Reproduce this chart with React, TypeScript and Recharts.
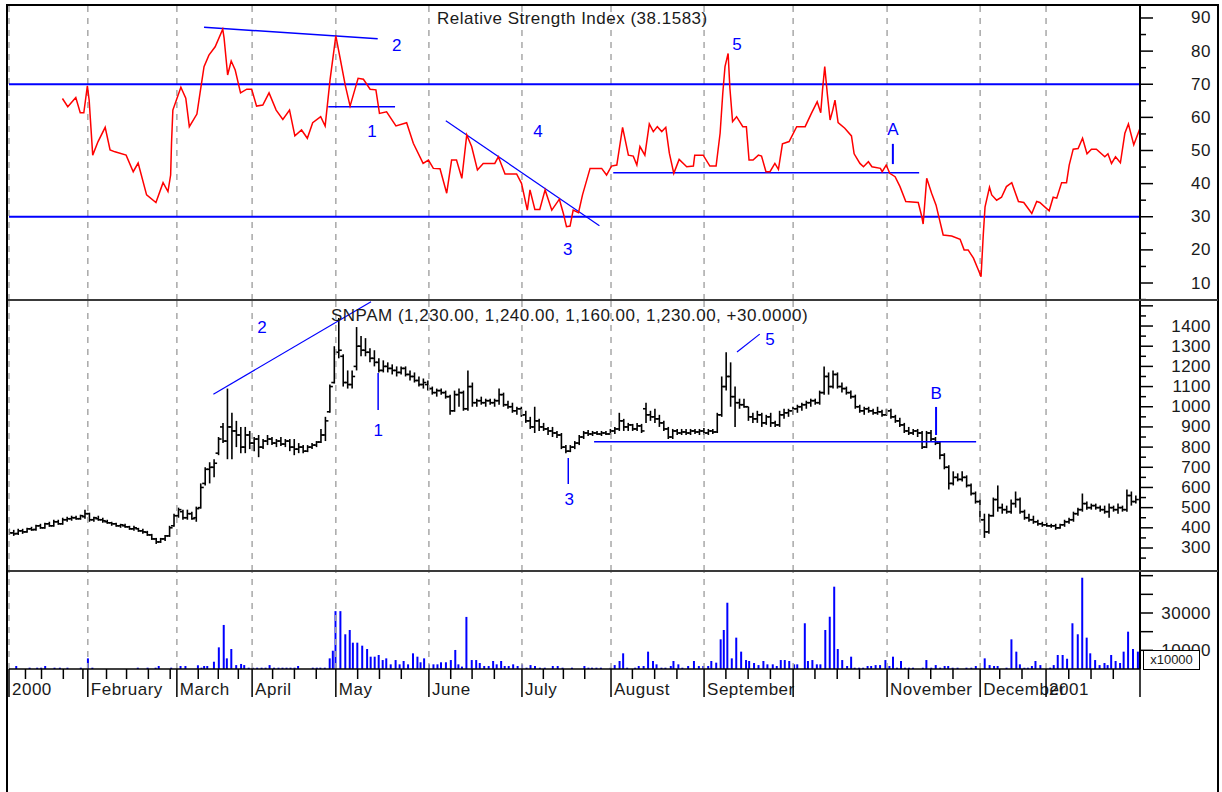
import { Bar, BarChart, ComposedChart, Line, LineChart, ReferenceDot, ReferenceLine, XAxis, YAxis } from 'recharts'

const FONT = "'Liberation Sans', Arial, sans-serif"
const BLUE = '#0000ff'
const GRID = '#a8a8a8'
const INK = '#1a1a1a'

// x axis is the trading-day index, 0 = first bar of Jan 2000
const lastDay = 254
const monthStarts = [0, 17.7, 37.7, 54.6, 73.4, 94.3, 115.2, 135.2, 156.1, 176.1, 197.2, 218.1, 232.9]
const monthLabels = ['2000', 'February', 'March', 'April', 'May', 'June', 'July', 'August', 'September', '', 'November', 'December', '2001']
const weekTicks = [3.7, 7.3, 12.2, 16.6, 21.9, 26.4, 31.3, 36.2, 42.5, 47, 51.5, 59.2, 64.1, 69, 78.3, 83.2, 88.1, 99.2, 104, 109, 120, 124.5, 129.3, 140, 145, 150, 161, 166, 171, 181, 186, 191, 202, 207, 212, 222.5, 227.5, 238, 243, 248]

// RSI line, [day, value]
const rsiPoints: [number, number][] = [
  [12, 65.7], [13.2, 63.2], [15, 66], [16, 61.4], [16.8, 61.4], [17.6, 69.5], [18, 65.2], [18.8, 48.6], [20, 52.7], [21.6, 57],
  [22.7, 50.2], [23.8, 49.6], [26.3, 48.6], [27.9, 43.6], [29, 46.2], [30.9, 36.6], [33, 34.3], [34.6, 40.3], [35.7, 37.6], [36.3, 42.6],
  [36.5, 52.3], [36.8, 62.2], [38.6, 69.1], [39.7, 65.8], [40.5, 57.2], [42.2, 61], [42.9, 67.3], [43.8, 75.3], [44.9, 78.8], [46.3, 81.3],
  [48, 86.6], [48.3, 84], [49.1, 72.8], [49.9, 77], [50.8, 74.3], [52, 67.4], [53.4, 68.5], [54.5, 68.5], [55.6, 63.4], [57, 63.7],
  [58.4, 67.4], [60, 62.2], [61.5, 59.4], [63, 62.2], [64.2, 54.4], [65.7, 56.2], [67, 53.7], [68.2, 58.4], [70, 60.2], [71, 57.4],
  [72.1, 71.3], [73.4, 84.6], [74.3, 78.3], [75.5, 69.8], [76.6, 63.4], [78.4, 71.8], [79.6, 71.5], [81.1, 68.5], [82.4, 68.3], [83.2, 61.2],
  [84.8, 61.7], [86.9, 57.4], [89.3, 58.4], [90.8, 52.2], [93, 46.1], [94.2, 47.1], [95.3, 44.6], [96.8, 44.5], [98.3, 37.1], [99.4, 47.1],
  [100.5, 47.1], [101.7, 41.6], [102.8, 54.7], [103.9, 51.2], [105.2, 44.1], [106.5, 46.1], [109.1, 46.1], [109.9, 48.1], [111.4, 42.9], [114, 42.9],
  [115.1, 40.1], [116.4, 32], [117, 38.1], [118.1, 32.2], [119.2, 32.2], [120.4, 38.1], [121.9, 32], [123.6, 35.3], [124.5, 31], [125.2, 27],
  [126, 27.2], [126.7, 32], [127.9, 31.2], [128.8, 36.6], [130.5, 44.6], [133.1, 44.6], [134.2, 42.6], [135.3, 45.3], [136.5, 45.6], [137.8, 57],
  [139.1, 48.6], [140.2, 48.3], [141, 45.6], [141.7, 51.2], [142.8, 48.6], [143.8, 58], [144.7, 55.7], [145.6, 57.2], [146.6, 55.7], [147.5, 57],
  [148.3, 49.2], [149.3, 43.1], [150.5, 47.3], [152.2, 45.1], [153.7, 45.3], [154, 48.6], [155.9, 48.6], [157.4, 45.3], [158.8, 45.3], [159.7, 55.2],
  [160.3, 67.3], [160.8, 75.3], [161.5, 79.3], [161.9, 68.8], [162.5, 58.7], [163.4, 60.2], [164.8, 57.2], [165.6, 57.2], [166.2, 47.1], [167.1, 47.1],
  [168.3, 48.6], [169, 48.3], [170, 43.6], [170.9, 43.6], [172, 46.1], [172.8, 44.3], [173.7, 52], [175.2, 52.7], [176.9, 57.2], [178.8, 57.2],
  [180.2, 61.2], [181.5, 64.7], [182.3, 61.4], [182.7, 68.3], [183.2, 75.3], [183.8, 66.8], [184.4, 59.2], [185, 62.2], [185.5, 65.2], [186.2, 58.4],
  [187.7, 56.7], [189.2, 54.4], [189.8, 49], [191.1, 46.1], [191.9, 45.1], [193, 46.6], [193.8, 45.1], [195.7, 44.6], [196.1, 43.6], [197, 45.6],
  [197.8, 43.1], [199, 42.1], [200.1, 39.1], [201.4, 34.6], [204.2, 34.3], [205, 30], [205.3, 27.8], [206.1, 41.6], [207.2, 37.1], [208.2, 33.5],
  [209.8, 24.5], [211.7, 24.2], [213.6, 23.2], [214.5, 20], [215.4, 20], [216.6, 17.5], [217.7, 13.9], [218.3, 11.9], [218.8, 24.5], [219.2, 33],
  [220.2, 38.9], [220.7, 36.6], [221.8, 35], [222.9, 35.9], [224, 39.1], [225.2, 40.3], [226.7, 34.6], [227.9, 34.3], [229.7, 31], [230.8, 34.6],
  [231.5, 34.3], [233.6, 31.8], [234.5, 35.9], [235.3, 35.6], [236.4, 40.3], [237.5, 40.3], [238.1, 45.6], [239, 50.4], [240.1, 50.6], [241.1, 53.7],
  [242.1, 49], [243.1, 50.4], [244.2, 50.4], [246.1, 48.1], [246.8, 49], [247.6, 46.1], [248.5, 48.1], [249.6, 46.3], [250.6, 55.2], [251.4, 58],
  [252.6, 51.7], [254, 56.7],
]

// SNPAM daily bars, one per day from day 0: [open, high, low, close]
const priceBars: [number, number, number, number][] = [
  [380, 395, 365, 375], [375, 390, 360, 370], [372, 395, 365, 385], [385, 395, 370, 380], [380, 400, 375, 395],
  [395, 405, 385, 390], [392, 415, 385, 410], [410, 420, 395, 400], [400, 425, 395, 420], [420, 430, 405, 410],
  [410, 440, 405, 430], [430, 440, 415, 420], [420, 450, 415, 440], [440, 455, 430, 445], [445, 460, 435, 450],
  [450, 460, 440, 445], [445, 465, 440, 460], [455, 490, 445, 470], [470, 475, 430, 440], [440, 455, 430, 450],
  [445, 460, 435, 440], [440, 450, 425, 435], [430, 440, 420, 425], [425, 430, 410, 420], [420, 425, 405, 410],
  [410, 420, 400, 415], [410, 420, 400, 405], [405, 410, 390, 395], [395, 410, 385, 400], [395, 400, 380, 385],
  [385, 395, 370, 380], [378, 385, 360, 365], [365, 370, 340, 345], [345, 350, 320, 330], [330, 350, 325, 345],
  [345, 365, 335, 360], [360, 410, 355, 400], [410, 470, 405, 460], [460, 500, 450, 490], [480, 490, 440, 450],
  [450, 490, 440, 470], [470, 480, 440, 445], [450, 505, 430, 495], [500, 620, 495, 600], [620, 700, 610, 690],
  [690, 725, 620, 700], [700, 740, 650, 720], [770, 850, 760, 840], [900, 920, 820, 830], [830, 1090, 740, 900],
  [900, 970, 740, 880], [880, 930, 800, 860], [860, 900, 770, 800], [800, 900, 770, 860], [860, 880, 790, 820],
  [820, 850, 780, 840], [840, 860, 750, 800], [800, 840, 790, 830], [830, 860, 810, 840], [840, 850, 810, 820],
  [820, 840, 800, 830], [830, 850, 805, 815], [815, 840, 800, 830], [830, 840, 780, 800], [800, 840, 760, 790],
  [790, 820, 770, 800], [800, 810, 770, 780], [780, 810, 775, 800], [800, 820, 790, 810], [810, 830, 800, 825],
  [825, 890, 820, 860], [860, 950, 830, 930], [975, 1110, 970, 1100], [1120, 1300, 1115, 1270], [1270, 1440, 1240, 1280],
  [1250, 1260, 1100, 1120], [1120, 1180, 1090, 1110], [1110, 1180, 1090, 1150], [1200, 1395, 1180, 1300], [1300, 1350, 1250, 1280],
  [1280, 1340, 1250, 1270], [1270, 1290, 1220, 1240], [1240, 1280, 1200, 1220], [1220, 1240, 1170, 1180], [1180, 1230, 1170, 1200],
  [1200, 1220, 1170, 1190], [1190, 1210, 1160, 1180], [1180, 1200, 1150, 1170], [1170, 1200, 1160, 1190], [1190, 1200, 1150, 1160],
  [1160, 1180, 1130, 1150], [1150, 1170, 1120, 1130], [1130, 1150, 1100, 1110], [1110, 1140, 1090, 1120], [1110, 1130, 1080, 1090],
  [1090, 1100, 1060, 1070], [1070, 1090, 1050, 1080], [1080, 1090, 1060, 1070], [1070, 1080, 1040, 1050], [1050, 1060, 960, 980],
  [980, 1080, 975, 1060], [1060, 1090, 1000, 1070], [1070, 1080, 980, 990], [990, 1180, 980, 1100], [1100, 1120, 1000, 1020],
  [1020, 1040, 1000, 1030], [1030, 1050, 1010, 1020], [1020, 1040, 1000, 1030], [1030, 1040, 1010, 1020], [1020, 1040, 1000, 1030],
  [1030, 1090, 1010, 1060], [1060, 1070, 1000, 1010], [1010, 1030, 990, 1000], [1000, 1020, 970, 980], [980, 1000, 960, 990],
  [990, 1000, 950, 960], [960, 980, 920, 930], [930, 950, 890, 900], [900, 1000, 870, 930], [930, 940, 880, 900],
  [900, 920, 880, 890], [890, 900, 860, 880], [880, 900, 850, 870], [870, 880, 845, 860], [860, 870, 790, 800],
  [800, 810, 770, 780], [780, 810, 775, 800], [800, 830, 790, 820], [820, 860, 810, 850], [850, 880, 840, 870],
  [870, 885, 855, 865], [865, 880, 855, 870], [870, 880, 860, 865], [865, 880, 855, 870], [870, 880, 860, 865],
  [865, 890, 860, 880], [880, 900, 865, 890], [890, 970, 880, 930], [930, 940, 880, 900], [900, 920, 880, 910],
  [910, 915, 880, 890], [890, 920, 880, 905], [905, 915, 870, 880], [990, 1020, 920, 960], [960, 980, 930, 950],
  [950, 990, 920, 940], [940, 960, 900, 920], [920, 930, 880, 890], [890, 900, 840, 850], [850, 890, 840, 880],
  [880, 890, 860, 870], [870, 890, 860, 875], [875, 890, 860, 870], [870, 890, 860, 880], [880, 890, 865, 875],
  [875, 890, 860, 880], [880, 895, 860, 870], [870, 890, 860, 880], [880, 890, 865, 875], [875, 970, 870, 960],
  [960, 1150, 950, 1100], [1100, 1270, 1080, 1150], [1150, 1220, 1000, 1050], [1050, 1100, 900, 1020], [1020, 1040, 990, 1010],
  [1010, 1040, 995, 1000], [1000, 1000, 930, 950], [950, 970, 920, 940], [940, 980, 920, 960], [960, 970, 900, 920],
  [920, 960, 910, 950], [950, 970, 900, 920], [920, 930, 900, 910], [910, 980, 900, 960], [960, 990, 940, 970],
  [970, 990, 950, 980], [980, 1000, 960, 990], [990, 1010, 970, 1000], [1000, 1020, 980, 1010], [1010, 1030, 990, 1020],
  [1020, 1040, 1000, 1030], [1030, 1040, 1010, 1020], [1020, 1080, 1010, 1070], [1070, 1200, 1060, 1150], [1150, 1170, 1060, 1100],
  [1100, 1180, 1090, 1160], [1160, 1170, 1090, 1100], [1100, 1120, 1070, 1090], [1090, 1100, 1060, 1070], [1070, 1080, 1040, 1050],
  [1050, 1060, 990, 1000], [1000, 1010, 970, 980], [980, 1000, 960, 990], [990, 1000, 970, 980], [980, 990, 960, 970],
  [970, 1000, 960, 975], [975, 985, 950, 960], [960, 990, 955, 980], [980, 990, 940, 950], [950, 960, 920, 930],
  [930, 945, 900, 910], [910, 920, 870, 880], [880, 900, 860, 870], [870, 890, 860, 880], [880, 890, 850, 870],
  [870, 880, 790, 800], [800, 880, 795, 870], [870, 885, 830, 840], [840, 850, 810, 820], [820, 830, 740, 760],
  [760, 770, 690, 700], [700, 710, 590, 620], [620, 680, 610, 650], [650, 670, 630, 640], [640, 680, 630, 650],
  [650, 660, 600, 610], [610, 620, 560, 570], [570, 580, 520, 530], [530, 540, 430, 440], [440, 470, 350, 380],
  [380, 470, 370, 460], [460, 550, 455, 540], [540, 610, 480, 500], [500, 520, 470, 490], [490, 510, 470, 480],
  [480, 540, 470, 520], [520, 580, 500, 540], [540, 550, 470, 480], [480, 490, 440, 450], [450, 470, 430, 440],
  [440, 460, 420, 430], [430, 440, 410, 420], [420, 430, 405, 415], [415, 425, 405, 410], [410, 420, 400, 410],
  [410, 420, 390, 400], [400, 420, 395, 415], [415, 440, 405, 430], [430, 450, 420, 440], [440, 480, 430, 470],
  [470, 500, 460, 490], [490, 570, 480, 520], [520, 530, 490, 500], [500, 520, 490, 510], [510, 520, 490, 500],
  [500, 510, 480, 490], [490, 510, 470, 480], [480, 520, 450, 500], [500, 510, 480, 490], [490, 520, 470, 500],
  [500, 510, 480, 490], [490, 590, 480, 560], [560, 580, 510, 530], [530, 560, 520, 540],
]

// volume, [day, shares], axis shown in units of x10000
const volumePoints: [number, number][] = [
  [1.7, 1600], [4.7, 700], [6.4, 700], [7.3, 700], [8.2, 1600], [10.3, 700], [11.5, 700], [13.2, 700], [16.2, 700], [17.8, 5700],
  [18.8, 700], [29, 700], [31.2, 700], [33, 700], [33.7, 1600], [36.5, 700], [38.6, 1600], [39.7, 1600], [42.5, 2000], [43.3, 700],
  [43.9, 1600], [44.6, 1600], [46.1, 3900], [47.2, 11600], [48.3, 23600], [49, 5700], [50, 10700], [51.1, 2100], [52.2, 2700], [52.9, 2100],
  [53.9, 700], [54.8, 700], [55.8, 700], [56.8, 700], [57.7, 700], [58.6, 2100], [59.6, 700], [60.6, 700], [61.5, 700], [62.4, 700],
  [63.3, 700], [64.2, 700], [65, 1600], [68.3, 700], [69.2, 700], [70, 700], [71, 700], [72.1, 5700], [72.8, 9800], [73.4, 31000],
  [74.5, 31000], [75.6, 18600], [76.6, 20900], [77.3, 14100], [78.3, 14100], [79.4, 12500], [80.5, 10700], [81.3, 6600], [82.2, 6600], [83.1, 7500],
  [84, 4800], [84.8, 5700], [85.8, 2500], [86.9, 4800], [87.8, 2500], [88.7, 4300], [89.7, 2500], [90.8, 8400], [91.8, 6600], [92.5, 3600],
  [93.3, 5700], [94.4, 2500], [95.4, 2500], [96.3, 2500], [97.1, 3600], [98.2, 3600], [99.3, 4800], [100.3, 10200], [101, 2500], [101.8, 1300],
  [102.8, 27900], [104, 4800], [105, 4800], [105.8, 3200], [106.8, 1600], [107.8, 1600], [108.8, 4300], [109.6, 2500], [110.6, 4300], [111.4, 1600],
  [112.3, 1600], [113.3, 2500], [114.3, 1600], [115.3, 2500], [116.3, 700], [117.2, 2100], [118.2, 1600], [119.3, 700], [120.4, 700], [122.2, 1600],
  [123.3, 1600], [124.4, 700], [126.5, 700], [129.3, 1600], [130.2, 700], [131, 700], [132, 700], [133, 700], [135.2, 700], [136.1, 2100],
  [137.2, 4300], [138, 8400], [138.9, 700], [140.7, 700], [141.5, 1600], [142.6, 1600], [143.6, 9300], [144.7, 4300], [145.5, 2500], [146.6, 700],
  [147.5, 700], [148.7, 1600], [149.3, 4300], [150.4, 2500], [151.3, 700], [152.6, 1600], [153.9, 4300], [155, 1600], [156, 1600], [157.1, 1600],
  [157.8, 4300], [158.9, 3400], [159.9, 15900], [160.6, 20900], [161.4, 35500], [162.4, 5700], [163.4, 16800], [164.5, 9300], [165.6, 4800], [166.3, 4300],
  [167.4, 3200], [168.4, 2100], [169.5, 4300], [170.4, 2500], [171.6, 2500], [172.5, 1600], [173.4, 4800], [174.3, 4800], [175.3, 4300], [176.4, 2500],
  [177.1, 2500], [178.8, 24500], [179.5, 4300], [180.5, 4800], [181.5, 2500], [182.3, 2500], [183.4, 20900], [184.4, 28000], [185.4, 44100], [186.2, 10700],
  [187.2, 4800], [188.3, 1600], [189.2, 6600], [190, 700], [191, 700], [191.9, 700], [192.9, 1600], [193.7, 1600], [194.7, 2100], [195.7, 2100],
  [196.9, 4800], [197.8, 1600], [198.6, 6600], [199.5, 700], [200.4, 4300], [201.3, 700], [202.2, 700], [203.1, 700], [205.3, 700], [206.1, 4800],
  [207.2, 700], [208.2, 2100], [209.2, 700], [210.2, 1600], [211, 1600], [212, 700], [213.1, 700], [215.1, 700], [216.2, 700], [217.2, 1600],
  [219.2, 5700], [220.3, 2100], [221.3, 1600], [222.1, 1600], [224.1, 700], [225.2, 15900], [226.3, 9300], [227.1, 2500], [228.1, 700], [228.9, 700],
  [229.8, 1600], [230.6, 4300], [231.7, 2100], [233.9, 700], [234.7, 2100], [235.6, 7500], [236.7, 7500], [237.7, 5500], [238.9, 24500], [240.1, 18600],
  [241.1, 48900], [242.1, 16800], [242.9, 8400], [244, 4800], [245, 2100], [246.1, 3200], [246.8, 2100], [247.6, 7500], [248.6, 4300], [249.6, 3200],
  [250.4, 9300], [251.4, 20000], [252.5, 10700], [253.6, 9300],
]

const rsiTicks = [5, 10, 15, 20, 25, 30, 35, 40, 45, 50, 55, 60, 65, 70, 75, 80, 85, 90]
const priceTicks = [250, 300, 350, 400, 450, 500, 550, 600, 650, 700, 750, 800, 850, 900, 950, 1000, 1050, 1100, 1150, 1200, 1250, 1300, 1350, 1400, 1450, 1500]
const priceLabels = [300, 400, 500, 600, 700, 800, 900, 1000, 1100, 1200, 1300, 1400]
const volumeTicks = [10000, 20000, 30000, 40000, 50000]
const volumeLabels = [10000, 30000]

const rsiRows = rsiPoints.map(([d, v]) => ({ d, v }))
const priceRows = priceBars.map(([o, h, l, c], d) => ({ d, open: o, close: c, range: [l, h] }))
const volumeRows = volumePoints.map(([d, v]) => ({ d, v }))

const xDomain: [number, number] = [0, lastDay]

function yTick(isMajor: (v: number) => boolean, labels: number[]) {
  return (props: any) => {
    const { x, y, payload } = props
    const v = payload.value
    return (
      <g>
        <line x1={x} x2={x + (isMajor(v) ? 13 : 6)} y1={y} y2={y} stroke="#000" strokeWidth={1.5} />
        {labels.includes(v) && (
          <text x={x + 71} y={y} textAnchor="end" dominantBaseline="central" fontSize={17} fill={INK} fontFamily={FONT} letterSpacing={0.5}>
            {v}
          </text>
        )}
      </g>
    )
  }
}

function xTick(props: any) {
  const { x, y, payload } = props
  const idx = monthStarts.indexOf(payload.value)
  if (idx < 0 && payload.value !== lastDay) {
    return <line x1={x} x2={x} y1={y} y2={y + 10} stroke="#000" strokeWidth={1.5} />
  }
  return (
    <g>
      <line x1={x} x2={x} y1={y} y2={y + 28} stroke="#000" strokeWidth={1.5} />
      {idx >= 0 && (
        <text x={x + 3} y={y + 26} fontSize={17} fill={INK} fontFamily={FONT} letterSpacing={0.5}>
          {monthLabels[idx]}
        </text>
      )}
    </g>
  )
}

function OhlcShape(props: any) {
  const { x, y, width, height, payload } = props
  if (x == null || y == null || !payload) return null
  const top = Math.min(y, y + height)
  const h = Math.abs(height)
  const [lo, hi] = payload.range
  const span = hi - lo || 1
  const cx = x + width / 2
  const yOf = (v: number) => top + ((hi - v) / span) * h
  return (
    <g stroke="#000">
      <line x1={cx} x2={cx} y1={top} y2={top + h} strokeWidth={1.6} />
      <line x1={cx - 3} x2={cx} y1={yOf(payload.open)} y2={yOf(payload.open)} strokeWidth={1.6} />
      <line x1={cx} x2={cx + 3} y1={yOf(payload.close)} y2={yOf(payload.close)} strokeWidth={1.6} />
    </g>
  )
}

function note(key: string, x: number, y: number, text: string) {
  return (
    <ReferenceDot key={key} x={x} y={y} r={0} fill="none" stroke="none"
      label={{ value: text, position: 'center', fill: BLUE, fontSize: 17, fontFamily: FONT }} />
  )
}

const gridLines = monthStarts.map((m) => (
  <ReferenceLine key={`g${m}`} x={m} stroke={GRID} strokeWidth={1.5} strokeDasharray="6 6" />
))

const axisLineStyle = { stroke: '#000', strokeWidth: 2 }

export default function App() {
  return (
    <div style={{ position: 'absolute', left: 0, top: 0, width: 1222, height: 792, background: '#fff', overflow: 'hidden', fontFamily: FONT }}>
      <div style={{ position: 'absolute', left: 6, top: 4, width: 1213, height: 820, border: '2px solid #000', boxSizing: 'border-box' }} />

      <div style={{ position: 'absolute', left: 0, top: 0 }}>
        <LineChart width={1222} height={300} data={rsiRows} margin={{ top: 5, right: 0, bottom: 0, left: 9 }}>
          <XAxis type="number" dataKey="d" domain={xDomain} hide allowDataOverflow />
          <YAxis orientation="right" width={82} domain={[4.87, 93.92]} ticks={rsiTicks} interval={0} allowDataOverflow
            tickLine={false} tickSize={0} tickMargin={0} axisLine={axisLineStyle} tick={yTick((v) => v % 10 === 0, rsiTicks.filter((v) => v % 10 === 0))} />
          {gridLines}
          <ReferenceLine y={70} stroke={BLUE} strokeWidth={2} />
          <ReferenceLine y={30} stroke={BLUE} strokeWidth={2} />
          <ReferenceLine segment={[{ x: 43.8, y: 87.2 }, { x: 82.8, y: 83.7 }]} stroke={BLUE} strokeWidth={1.5} />
          <ReferenceLine segment={[{ x: 71.7, y: 63.2 }, { x: 86.7, y: 63.2 }]} stroke={BLUE} strokeWidth={1.5} />
          <ReferenceLine segment={[{ x: 98.1, y: 59 }, { x: 132.6, y: 27.3 }]} stroke={BLUE} strokeWidth={1.2} />
          <ReferenceLine segment={[{ x: 135.7, y: 43.3 }, { x: 204.4, y: 43.3 }]} stroke={BLUE} strokeWidth={1.5} />
          <ReferenceLine segment={[{ x: 198.5, y: 52 }, { x: 198.5, y: 45.9 }]} stroke={BLUE} strokeWidth={2} />
          <Line type="linear" dataKey="v" stroke="#ff0000" strokeWidth={1.5} dot={false} isAnimationActive={false} />
          {note('n2', 87.1, 81.8, '2')}
          {note('n1', 81.5, 55.9, '1')}
          {note('n4', 118.8, 55.9, '4')}
          {note('n3', 125.5, 20.3, '3')}
          {note('n5', 163.5, 82.2, '5')}
          {note('nA', 198.5, 56.4, 'A')}
        </LineChart>
      </div>

      <div style={{ position: 'absolute', left: 0, top: 300 }}>
        <ComposedChart width={1222} height={271} data={priceRows} margin={{ top: 0, right: 0, bottom: 0, left: 9 }}>
          <XAxis type="number" dataKey="d" domain={xDomain} hide allowDataOverflow />
          <YAxis orientation="right" width={82} domain={[186, 1529]} ticks={priceTicks} interval={0} allowDataOverflow
            tickLine={false} tickSize={0} tickMargin={0} axisLine={axisLineStyle} tick={yTick((v) => v % 100 === 0, priceLabels)} />
          {gridLines}
          <ReferenceLine segment={[{ x: 45.9, y: 1062 }, { x: 81.3, y: 1520 }]} stroke={BLUE} strokeWidth={1.2} />
          <ReferenceLine segment={[{ x: 131.4, y: 827 }, { x: 217.2, y: 827 }]} stroke={BLUE} strokeWidth={1.5} />
          <ReferenceLine segment={[{ x: 82.9, y: 1167 }, { x: 82.9, y: 984 }]} stroke={BLUE} strokeWidth={1.5} />
          <ReferenceLine segment={[{ x: 125.6, y: 746 }, { x: 125.6, y: 617 }]} stroke={BLUE} strokeWidth={1.5} />
          <ReferenceLine segment={[{ x: 163.5, y: 1271 }, { x: 168.6, y: 1360 }]} stroke={BLUE} strokeWidth={1.2} />
          <ReferenceLine segment={[{ x: 208.2, y: 999 }, { x: 208.2, y: 860 }]} stroke={BLUE} strokeWidth={2} />
          <Bar dataKey="range" barSize={3} shape={(p: any) => <OhlcShape {...p} />} isAnimationActive={false} />
          {note('p2', 56.8, 1395, '2')}
          {note('p1', 82.9, 885, '1')}
          {note('p3', 125.8, 543, '3')}
          {note('p5', 170.9, 1336, '5')}
          {note('pB', 208.2, 1066, 'B')}
        </ComposedChart>
      </div>

      <div style={{ position: 'absolute', left: 0, top: 571 }}>
        <BarChart width={1222} height={129} data={volumeRows} margin={{ top: 0, right: 0, bottom: 0, left: 9 }}>
          <XAxis type="number" dataKey="d" domain={xDomain} ticks={[...monthStarts, lastDay, ...weekTicks]} interval={0} height={31} allowDataOverflow
            tickLine={false} tickSize={0} tickMargin={0} axisLine={{ stroke: '#000', strokeWidth: 1.5 }} tick={xTick} />
          <YAxis orientation="right" width={82} domain={[0, 52500]} ticks={volumeTicks} interval={0} allowDataOverflow
            tickLine={false} tickSize={0} tickMargin={0} axisLine={axisLineStyle} tick={yTick(() => true, volumeLabels)} />
          {gridLines}
          <Bar dataKey="v" fill={BLUE} barSize={2} isAnimationActive={false} />
        </BarChart>
      </div>

      <div style={{ position: 'absolute', left: 8, top: 299, width: 1210, height: 2, background: '#3a3a3a' }} />
      <div style={{ position: 'absolute', left: 8, top: 570, width: 1210, height: 2, background: '#3a3a3a' }} />

      <div style={{ position: 'absolute', left: 437, top: 9, fontSize: 17, lineHeight: '20px', letterSpacing: 0.5, color: INK, whiteSpace: 'nowrap' }}>
        Relative Strength Index (38.1583)
      </div>
      <div style={{ position: 'absolute', left: 331, top: 306, fontSize: 17, lineHeight: '20px', letterSpacing: 0.5, color: INK, whiteSpace: 'nowrap' }}>
        SNPAM (1,230.00, 1,240.00, 1,160.00, 1,230.00, +30.0000)
      </div>
      <div style={{ position: 'absolute', left: 1143, top: 650, width: 55, height: 18, border: '1px solid #000', background: '#fff', fontSize: 13, lineHeight: '18px', textAlign: 'center', color: INK, boxSizing: 'content-box' }}>
        x10000
      </div>
    </div>
  )
}
